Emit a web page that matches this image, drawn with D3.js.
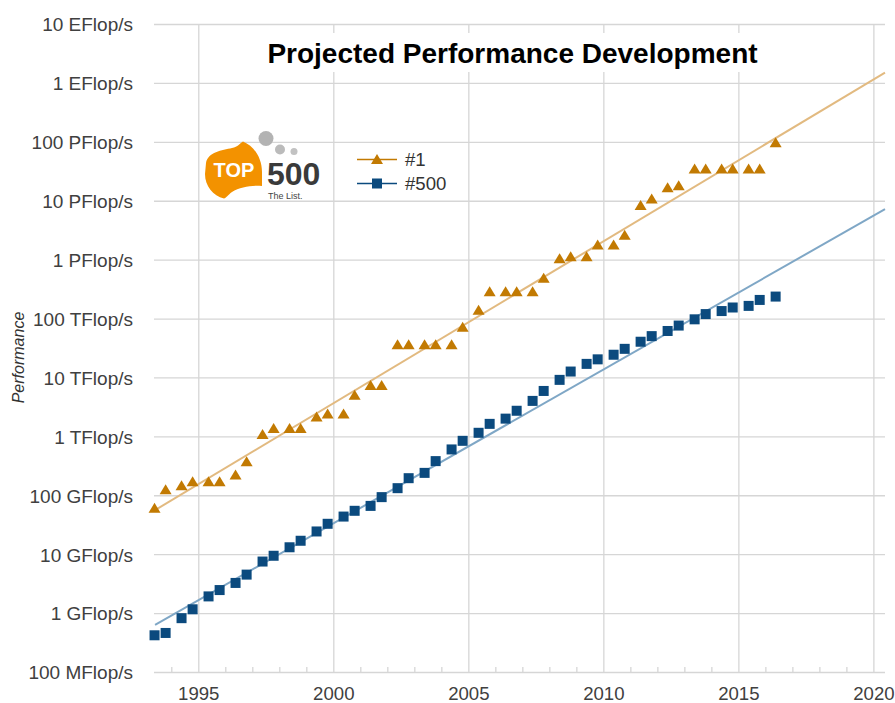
<!DOCTYPE html>
<html>
<head>
<meta charset="utf-8">
<script src="https://cdn.jsdelivr.net/npm/d3@7"></script>
<style>
    body { margin: 0; background: #fff; }
    text { font-family: "Liberation Sans", Arial, sans-serif; }
</style>
</head>
<body>
<div id="chart"></div>
<script>
// list dates (June / November of each year, as decimal years)
const listDates = [
    1993.38, 1993.79, 1994.38, 1994.79, 1995.38, 1995.79, 1996.38, 1996.79,
    1997.38, 1997.79, 1998.38, 1998.79, 1999.38, 1999.79, 2000.38, 2000.79,
    2001.38, 2001.79, 2002.38, 2002.79, 2003.38, 2003.79, 2004.38, 2004.79,
    2005.38, 2005.79, 2006.38, 2006.79, 2007.38, 2007.79, 2008.38, 2008.79,
    2009.38, 2009.79, 2010.38, 2010.79, 2011.38, 2011.79, 2012.38, 2012.79,
    2013.38, 2013.79, 2014.38, 2014.79, 2015.38, 2015.79, 2016.38
]

// performance in flop/s
const top1Values = [
    60e9, 124e9, 145e9, 170e9, 170e9, 170e9, 220e9, 370e9,
    1.08e12, 1.36e12, 1.36e12, 1.36e12, 2.14e12, 2.4e12, 2.4e12, 5.0e12,
    7.3e12, 7.3e12, 35.9e12, 35.9e12, 35.9e12, 35.9e12, 35.9e12, 71e12,
    138e12, 285e12, 285e12, 285e12, 285e12, 485e12, 1.04e15, 1.12e15,
    1.12e15, 1.78e15, 1.78e15, 2.6e15, 8.3e15, 10.7e15, 16.6e15, 18e15,
    34.5e15, 34.5e15, 34.5e15, 34.5e15, 34.5e15, 34.5e15, 96e15
]

const top500Values = [
    0.42e9, 0.46e9, 0.82e9, 1.16e9, 1.92e9, 2.46e9, 3.25e9, 4.5e9,
    7.5e9, 9.4e9, 13.1e9, 16.9e9, 24.3e9, 32.8e9, 43.5e9, 54.5e9,
    66e9, 93e9, 132e9, 195e9, 240e9, 380e9, 600e9, 840e9,
    1.15e12, 1.63e12, 2.0e12, 2.72e12, 4.0e12, 5.9e12, 9.1e12, 12.6e12,
    17e12, 20.3e12, 24.3e12, 30.6e12, 40.4e12, 50.3e12, 61.5e12, 76e12,
    97e12, 119e12, 134e12, 154e12, 164e12, 207e12, 236e12
]

// projected trend lines: [year, flop/s]
const top1Trend = [[1993.40, 5.6e10], [2020.43, 1.5e18]]
const top500Trend = [[1993.40, 6.3e8], [2020.43, 7.2e15]]

const yTickValues = [1e8, 1e9, 1e10, 1e11, 1e12, 1e13, 1e14, 1e15, 1e16, 1e17, 1e18, 1e19]
const yTickLabels = [
    "100 MFlop/s", "1 GFlop/s", "10 GFlop/s", "100 GFlop/s", "1 TFlop/s", "10 TFlop/s",
    "100 TFlop/s", "1 PFlop/s", "10 PFlop/s", "100 PFlop/s", "1 EFlop/s", "10 EFlop/s"
]
const xMajorTicks = [1995, 2000, 2005, 2010, 2015, 2020]
const xMinorTicks = [
    1994, 1996, 1997, 1998, 1999, 2001, 2002, 2003, 2004, 2006, 2007, 2008, 2009,
    2011, 2012, 2013, 2014, 2016, 2017, 2018, 2019
]

const seriesNames = ["#1", "#500"]

const colors = {
    top1: "#c27a02",
    top1Trend: "#e2ba80",
    top500: "#0b4a7e",
    top500Trend: "#7fa7c6",
    grid: "#d6d6d6",
    label: "#404040"
}

const trianglePath = "M0,-5.5L6,4.5L-6,4.5Z"

const drawMarker = function (sel, type, color) {
    if (type === "triangle") {
        sel.append("path")
            .attr("d", trianglePath)
            .attr("fill", color)
    } else {
        sel.append("rect")
            .attr("x", -5).attr("y", -5)
            .attr("width", 10).attr("height", 10)
            .attr("fill", color)
    }
}

const drawLogo = function (svg) {
    const logo = svg.append("g")

    logo.append("circle").attr("cx", 266).attr("cy", 138.5).attr("r", 7.5).attr("fill", "#b3b3b3")
    logo.append("circle").attr("cx", 280).attr("cy", 149.5).attr("r", 5).attr("fill", "#bbbbbb")
    logo.append("circle").attr("cx", 294).attr("cy", 151.5).attr("r", 3.5).attr("fill", "#c2c2c2")

    logo.append("path")
        .attr("d", "M206,163 C208,152 222,150 232,148 C238,147 240,143 243,141.5 C254,146 262,158 262,172 L262,186 C252,185 240,187 232,192 C228,195 226,198 224,198.5 C213,196 205,186 205,174 Z")
        .attr("fill", "#f39200")

    logo.append("text")
        .attr("x", 234).attr("y", 177)
        .attr("text-anchor", "middle")
        .style("font-size", "20px").style("font-weight", "bold")
        .attr("fill", "#fff")
        .text("TOP")

    logo.append("text")
        .attr("x", 267).attr("y", 185)
        .style("font-size", "32px").style("font-weight", "bold")
        .attr("fill", "#3a3a3a")
        .text("500")

    logo.append("text")
        .attr("x", 268).attr("y", 199)
        .style("font-size", "9px")
        .attr("fill", "#444")
        .text("The List.")
}

const createVisualisation = function () {
    const width = 895, height = 703
    const plot = { left: 154, right: 885, top: 24, bottom: 672 }

    const svg = d3.select("#chart")
        .append("svg")
        .attr("width", width)
        .attr("height", height)

    const x = d3.scaleLinear()
        .domain([1993.36, 2020.43])
        .range([plot.left, plot.right])

    const y = d3.scaleLog()
        .domain([1e8, 1e19])
        .range([plot.bottom, plot.top])

    // horizontal grid + y labels
    const yAxis = svg.append("g")
        .attr("transform", `translate(${plot.left},0)`)
        .call(d3.axisLeft(y)
            .tickValues(yTickValues)
            .tickFormat((d, i) => yTickLabels[i])
            .tickSizeInner(-(plot.right - plot.left))
            .tickSizeOuter(0)
            .tickPadding(21))
    yAxis.select(".domain").remove()
    yAxis.selectAll(".tick line").attr("stroke", colors.grid).attr("stroke-width", 1.3)
    yAxis.selectAll(".tick text")
        .attr("dy", "0.36em")
        .attr("fill", colors.label)
        .style("font-size", "19px")
        .style("font-family", "'Liberation Sans', Arial, sans-serif")

    // vertical grid + x labels
    const xAxis = svg.append("g")
        .attr("transform", `translate(0,${plot.bottom})`)
        .call(d3.axisBottom(x)
            .tickValues(xMajorTicks)
            .tickFormat(d3.format("d"))
            .tickSizeInner(-(plot.bottom - plot.top))
            .tickSizeOuter(0)
            .tickPadding(15))
    xAxis.select(".domain").remove()
    xAxis.selectAll(".tick line").attr("stroke", colors.grid).attr("stroke-width", 1.3)
    xAxis.selectAll(".tick text")
        .attr("fill", colors.label)
        .style("font-size", "18.6px")
        .style("font-family", "'Liberation Sans', Arial, sans-serif")

    const minorAxis = svg.append("g")
        .attr("transform", `translate(0,${plot.bottom})`)
        .call(d3.axisBottom(x)
            .tickValues(xMinorTicks)
            .tickFormat("")
            .tickSizeInner(-5)
            .tickSizeOuter(0))
    minorAxis.select(".domain").remove()
    minorAxis.selectAll(".tick line").attr("stroke", colors.grid).attr("stroke-width", 1.3)

    // y axis title
    svg.append("text")
        .attr("transform", "translate(24,357.5) rotate(-90)")
        .attr("text-anchor", "middle")
        .style("font-size", "16px")
        .style("font-style", "italic")
        .attr("fill", "#333")
        .text("Performance")

    // chart title with white box
    const titleBox = svg.append("rect").attr("fill", "#fff")
    const title = svg.append("text")
        .attr("x", 512.5).attr("y", 63)
        .attr("text-anchor", "middle")
        .style("font-size", "28px")
        .style("font-weight", "bold")
        .attr("fill", "#000")
        .text("Projected Performance Development")
    const tb = title.node().getBBox()
    titleBox
        .attr("x", tb.x - 9).attr("y", 33)
        .attr("width", tb.width + 18).attr("height", 39)

    drawLogo(svg)

    // trend lines
    const line = d3.line()
        .x(d => x(d[0]))
        .y(d => y(d[1]))

    svg.append("path")
        .datum(top1Trend)
        .attr("d", line)
        .attr("fill", "none")
        .attr("stroke", colors.top1Trend)
        .attr("stroke-width", 2)

    svg.append("path")
        .datum(top500Trend)
        .attr("d", line)
        .attr("fill", "none")
        .attr("stroke", colors.top500Trend)
        .attr("stroke-width", 2)

    // markers
    const top1Data = listDates.map((d, i) => ({ date: d, value: top1Values[i] }))
    const top500Data = listDates.map((d, i) => ({ date: d, value: top500Values[i] }))

    svg.append("g").selectAll("g")
        .data(top500Data)
        .join("g")
        .attr("transform", d => `translate(${x(d.date)},${y(d.value)})`)
        .each(function () { drawMarker(d3.select(this), "square", colors.top500) })

    svg.append("g").selectAll("g")
        .data(top1Data)
        .join("g")
        .attr("transform", d => `translate(${x(d.date)},${y(d.value)})`)
        .each(function () { drawMarker(d3.select(this), "triangle", colors.top1) })

    // legend
    const legend = svg.append("g")
    const legendItems = [
        { name: seriesNames[0], type: "triangle", color: colors.top1, y: 159.5 },
        { name: seriesNames[1], type: "square", color: colors.top500, y: 183.5 }
    ]
    for (let item of legendItems) {
        const g = legend.append("g").attr("transform", `translate(0,${item.y})`)
        g.append("line")
            .attr("x1", 357).attr("x2", 397)
            .attr("stroke", item.color)
            .attr("stroke-width", 1.5)
        const m = g.append("g").attr("transform", "translate(377,0)")
        drawMarker(m, item.type, item.color)
        g.append("text")
            .attr("x", 405).attr("dy", "0.36em")
            .style("font-size", "18.6px")
            .attr("fill", "#333")
            .text(item.name)
    }
}

createVisualisation()
</script>
</body>
</html>
